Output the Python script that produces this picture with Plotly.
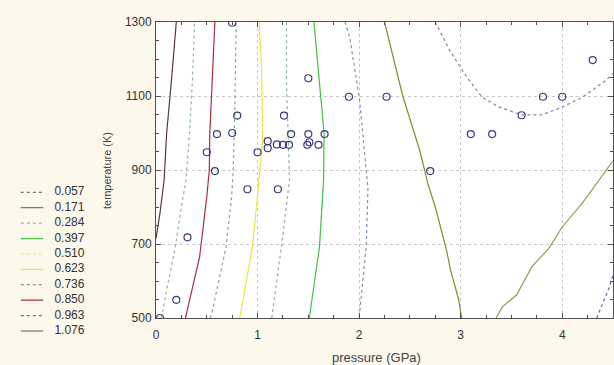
import plotly.graph_objects as go

# ---------------- data ----------------
levels = [0.057, 0.171, 0.284, 0.397, 0.510, 0.623, 0.736, 0.850, 0.963, 1.076]
level_labels = ["0.057", "0.171", "0.284", "0.397", "0.510", "0.623", "0.736", "0.850", "0.963", "1.076"]
level_colors = ["#7d7d5a", "#8c7d32", "#8fc08f", "#4cc04c", "#f0f07a",
                "#e6e640", "#707090", "#b03038", "#707080", "#6e5050"]
level_dashed = [True, False, True, False, True, False, True, False, True, False]

# contour lines: pressure (GPa), temperature (K)
c1_p = [0.0, 0.04, 0.08, 0.105, 0.15, 0.2]
c1_t = [715, 785, 873, 1000, 1135, 1300]
c2_p = [0.05, 0.07, 0.105, 0.19, 0.24, 0.295, 0.33, 0.36, 0.38]
c2_t = [500, 522, 576, 692, 784, 873, 1000, 1150, 1300]
c3_p = [0.29, 0.43, 0.5, 0.525, 0.53, 0.56, 0.58]
c3_t = [500, 666, 828, 900, 1000, 1180, 1300]
c4_p = [0.53, 0.55, 0.69, 0.745, 0.76, 0.775, 0.79]
c4_t = [500, 513, 693, 828, 900, 1044, 1300]
c5_p = [0.825, 0.95, 1.015, 1.05, 1.04, 1.015]
c5_t = [500, 693, 873, 980, 1180, 1300]
c6_p = [1.14, 1.235, 1.315, 1.30, 1.285, 1.285]
c6_t = [500, 693, 873, 981, 1134, 1300]
c7_p = [1.51, 1.61, 1.65, 1.655, 1.61, 1.555]
c7_t = [500, 693, 873, 1000, 1134, 1300]
c8_p = [1.86, 1.907, 2.005, 2.055, 2.087, 2.07, 2.0]
c8_t = [1300, 1260, 1089, 936, 850, 693, 500]
c9_p = [2.25, 2.43, 2.6, 2.68, 2.75, 2.86, 2.9, 2.98, 3.01]
c9_t = [1300, 1100, 950, 860, 800, 684, 630, 550, 500]
c10_p = [3.35, 3.41, 3.55, 3.70, 3.87, 4.0, 4.2, 4.36, 4.5]
c10_t = [500, 530, 562, 638, 689, 746, 811, 873, 925]
c11_p = [2.75, 2.89, 3.06, 3.21, 3.38, 3.60, 3.80, 4.0, 4.20, 4.41, 4.5]
c11_t = [1300, 1224, 1151, 1097, 1070, 1049, 1049, 1070, 1097, 1138, 1160]
c12_p = [4.34, 4.46, 4.5]
c12_t = [500, 581, 615]

contour_lines = [
    (c1_p, c1_t, "#5a3838", False),
    (c2_p, c2_t, "#8fb89a", True),
    (c3_p, c3_t, "#a83040", False),
    (c4_p, c4_t, "#80a890", True),
    (c5_p, c5_t, "#e8e840", False),
    (c6_p, c6_t, "#90b0a0", True),
    (c7_p, c7_t, "#40c040", False),
    (c8_p, c8_t, "#8090a8", True),
    (c9_p, c9_t, "#8a8a30", False),
    (c10_p, c10_t, "#9a9a50", False),
    (c11_p, c11_t, "#9878a8", True),
    (c12_p, c12_t, "#7060a0", True),
]

# measured points
pts_p = [0.04, 0.2, 0.31, 0.5, 0.58, 0.6, 0.75, 0.75, 0.8, 0.9, 1.0, 1.1, 1.1,
         1.19, 1.25, 1.31, 1.2, 1.26, 1.33, 1.5, 1.5, 1.49, 1.51, 1.6, 1.66,
         1.9, 2.27, 2.7, 3.1, 3.31, 3.6, 3.81, 4.0, 4.3]
pts_t = [500, 549, 718, 948, 897, 997, 1000, 1298, 1047, 848, 948, 978, 959,
         969, 968, 968, 848, 1047, 997, 1148, 997, 968, 975, 968, 997,
         1098, 1098, 897, 997, 997, 1048, 1098, 1098, 1197]

x_ticks = [0, 1, 2, 3, 4]
y_ticks = [500, 700, 900, 1100, 1300]

CREAM = "#fcf8ec"
FONT = "Liberation Sans, Arial, sans-serif"

# ---------------- figure ----------------
fig = go.Figure()

for p, t, col, dashed in contour_lines:
    fig.add_trace(go.Scatter(
        x=p, y=t, mode="lines",
        line=dict(color=col, width=1.2, dash="3px,3px" if dashed else "solid"),
        hoverinfo="skip", showlegend=False, xaxis="x", yaxis="y"))

fig.add_trace(go.Scatter(
    x=pts_p, y=pts_t, mode="markers",
    marker=dict(symbol="circle-open", size=7, color="#3a3a80", line=dict(width=1.2)),
    showlegend=False, xaxis="x", yaxis="y"))

# custom legend on an auxiliary axis
for i, (lab, col, dashed) in enumerate(zip(level_labels, level_colors, level_dashed)):
    fig.add_trace(go.Scatter(
        x=[0.95, 1.97], y=[i, i], mode="lines",
        line=dict(color=col, width=1.2, dash="3px,3px" if dashed else "solid"),
        showlegend=False, hoverinfo="skip", xaxis="x2", yaxis="y2"))
fig.add_trace(go.Scatter(
    x=[2.48] * len(level_labels), y=list(range(len(level_labels))),
    text=level_labels, mode="text", textposition="middle right",
    textfont=dict(family=FONT, size=12, color="#333333"),
    showlegend=False, hoverinfo="skip", xaxis="x2", yaxis="y2"))

axis_font = dict(family=FONT, size=12, color="#333333")

fig.update_layout(
    template="none",
    width=614, height=365,
    autosize=False,
    margin=dict(l=0, r=0, t=0, b=0, pad=0, autoexpand=False),
    paper_bgcolor=CREAM,
    plot_bgcolor=CREAM,
    font=axis_font,
    xaxis=dict(
        domain=[156 / 614, 613 / 614], range=[0, 4.5], automargin=False,
        tickvals=x_ticks, ticks="inside", ticklen=5, tickcolor="#505050",
        minor=dict(dtick=0.25, tick0=0, ticks="inside", ticklen=3, tickcolor="#505050", showgrid=False),
        showline=True, linecolor="#505050", linewidth=1, mirror="allticks",
        showgrid=True, gridcolor="#c8c8c8", griddash="dot", gridwidth=1,
        zeroline=False, tickfont=axis_font, ticklabelstandoff=6,
        anchor="y"),
    yaxis=dict(
        domain=[1 - 318 / 365, 1 - 22 / 365], range=[500, 1300], automargin=False,
        tickvals=y_ticks, ticks="inside", ticklen=5, tickcolor="#505050",
        minor=dict(dtick=50, tick0=500, ticks="inside", ticklen=3, tickcolor="#505050", showgrid=False),
        showline=True, linecolor="#505050", linewidth=1, mirror="allticks",
        showgrid=True, gridcolor="#c8c8c8", griddash="dot", gridwidth=1,
        zeroline=False, tickfont=axis_font, ticklabelstandoff=1,
        anchor="x"),
    xaxis2=dict(domain=[0, 0.25], range=[0, 7], visible=False, fixedrange=True,
                anchor="y2", automargin=False),
    yaxis2=dict(domain=[1 - 338.7 / 365, 1 - 184.6 / 365], range=[9.5, -0.5],
                visible=False, fixedrange=True, anchor="x2", automargin=False),
    shapes=[
        dict(type="rect", xref="x domain", yref="y domain", x0=0, x1=1, y0=0, y1=1,
             fillcolor="#ffffff", line=dict(width=0), layer="below"),
    ],
    annotations=[
        dict(text="temperature (K)", xref="paper", yref="paper", x=107 / 614, y=1 - 171 / 365,
             textangle=-90, showarrow=False, xanchor="center", yanchor="middle",
             font=dict(family=FONT, size=11, color="#444444")),
        dict(text="pressure (GPa)", xref="paper", yref="paper", x=376 / 614, y=1 - 357 / 365,
             showarrow=False, xanchor="center", yanchor="middle",
             font=dict(family=FONT, size=13, color="#444444")),
    ],
)

fig.write_html(
    "out.html",
    config={"displayModeBar": False},
    post_script="document.body.style.margin='0px';document.body.style.background='" + CREAM + "';",
)
